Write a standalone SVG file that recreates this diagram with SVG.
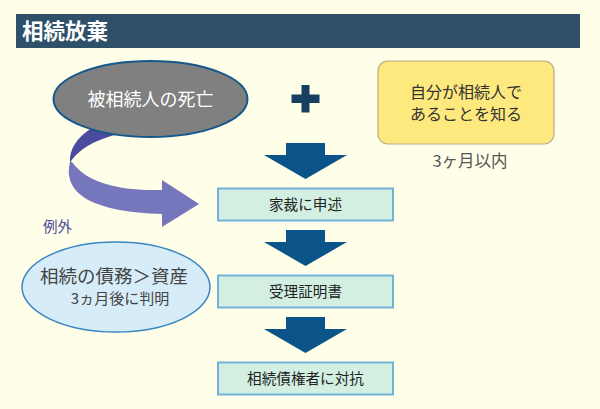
<svg xmlns="http://www.w3.org/2000/svg" width="600" height="409" viewBox="0 0 600 409">
<style>
text{font-family:"Noto Sans CJK JP","Noto Sans",sans-serif;text-anchor:middle}
.box{fill:#d3efe2;stroke:#72b2da;stroke-width:2}
.bt{font-size:14.6px;fill:#222}
.down{fill:#0b5489}
</style>
<defs>
<path id="dn" d="M-19.5,0 H19.5 V12 H41.5 L0,36 L-41.5,12 H-19.5 Z"/>
</defs>
<rect width="600" height="409" fill="#fffee9"/>
<g id="title">
<rect x="16" y="14" width="564" height="34" fill="#2e5068"/>
<text x="22" y="38.5" style="text-anchor:start;font-size:21.5px;font-weight:bold;fill:#fff">相続放棄</text>
</g>
<g id="connectors">
<g id="curve-arrow">
<path d="M92,128 C76,138 69,150 70,163 C78,150 92,141 118,134 Z" fill="#4a4a9e"/>
<path d="M70,162 C62,195 95,212 162,214 L162,227 L199,204 L162,180 L162,190 C125,191 88,185 72,162 Z" fill="#7676bd"/>
</g>
<use href="#dn" x="305.5" y="143" class="down"/>
<use href="#dn" x="305.5" y="230" class="down"/>
<use href="#dn" x="305.5" y="317" class="down"/>
</g>
<g id="death">
<ellipse cx="150.5" cy="99" rx="97" ry="38" fill="#808080" stroke="#15588c" stroke-width="2"/>
<text x="150.5" y="106" style="font-size:18px;fill:#fff">被相続人の死亡</text>
</g>
<g id="plus">
<rect x="301.5" y="85" width="8" height="27.5" fill="#173f5f"/>
<rect x="291.5" y="94.5" width="28" height="8.5" fill="#173f5f"/>
</g>
<g id="know">
<rect x="378" y="61" width="176" height="83" rx="10" fill="#fee97e" stroke="#b5ab86" stroke-width="1.2"/>
<text x="466" y="98" style="font-size:16px;fill:#333">自分が相続人で</text>
<text x="466" y="120" style="font-size:16px;fill:#333">あることを知る</text>
</g>
<g id="within">
<text x="470" y="167" style="font-size:16.5px;fill:#555">3ヶ月以内</text>
</g>
<g id="exception-label">
<text x="57.5" y="232" style="font-size:14.5px;fill:#4a4a9a">例外</text>
</g>
<g id="exception">
<ellipse cx="116" cy="287" rx="94" ry="45" fill="#d6ecf8" stroke="#3a86c2" stroke-width="1.5"/>
<text x="114" y="283" style="font-size:18.5px;fill:#444">相続の債務＞資産</text>
<text x="120" y="304" style="font-size:15px;fill:#444">3ヵ月後に判明</text>
</g>
<g id="box1">
<rect x="218" y="188.5" width="175" height="32" class="box"/>
<text x="305.5" y="210" class="bt">家裁に申述</text>
</g>
<g id="box2">
<rect x="218" y="275.5" width="175" height="32" class="box"/>
<text x="305.5" y="297" class="bt">受理証明書</text>
</g>
<g id="box3">
<rect x="218" y="362.5" width="175" height="32" class="box"/>
<text x="305.5" y="384" class="bt">相続債権者に対抗</text>
</g>
</svg>
